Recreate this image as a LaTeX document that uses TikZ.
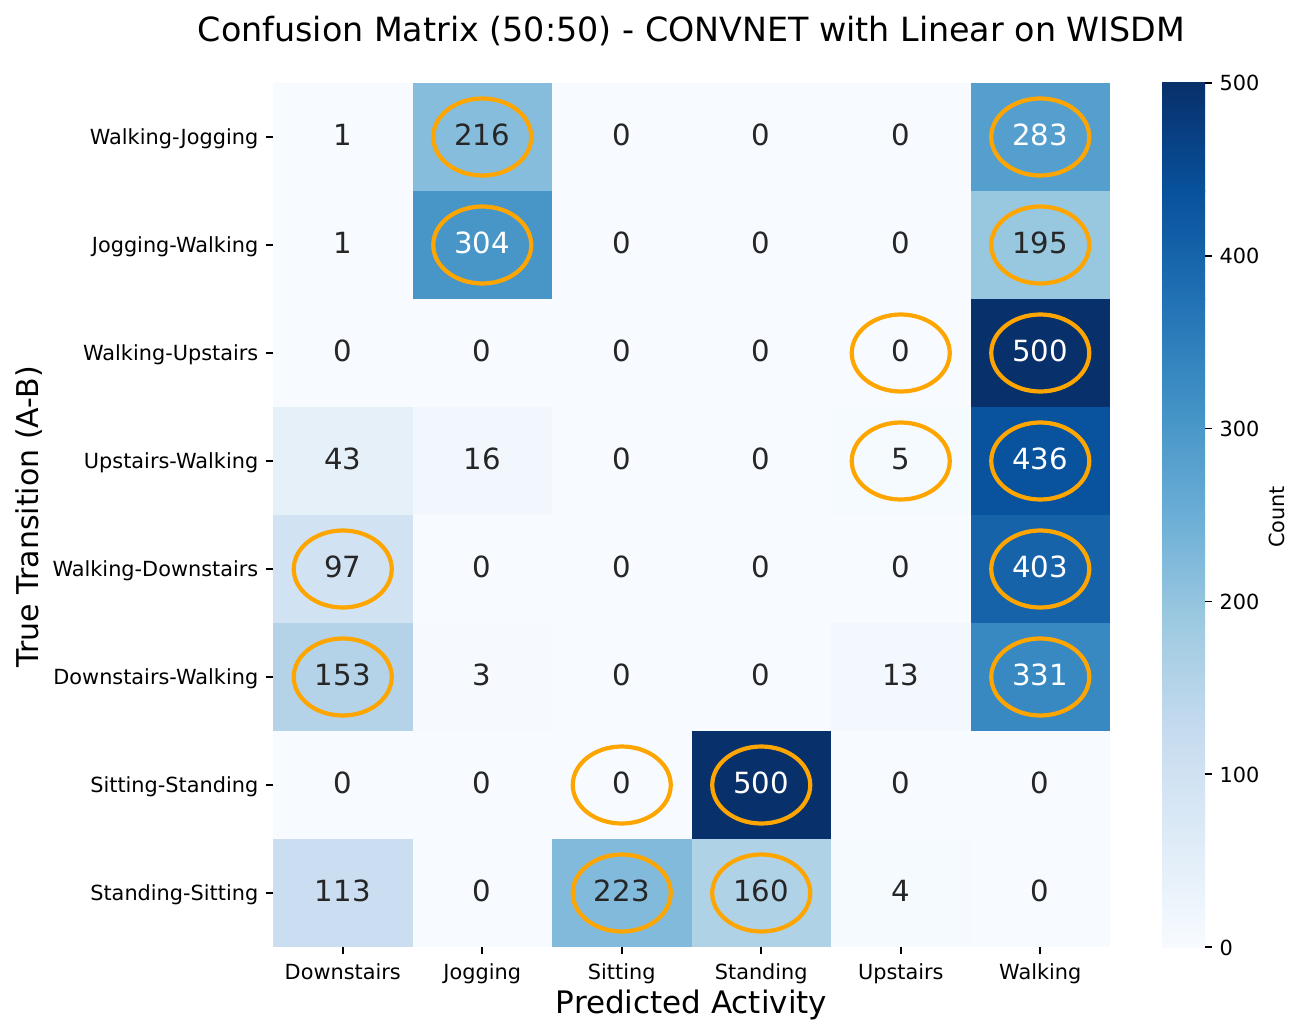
\documentclass[tikz,border=0pt]{standalone}
\usepackage{fontspec}
\setmainfont{DejaVu Sans}
% matplotlib Blues colormap stops
\definecolor{b0}{RGB}{247,251,255}
\definecolor{b1}{RGB}{222,235,247}
\definecolor{b2}{RGB}{198,219,239}
\definecolor{b3}{RGB}{158,202,225}
\definecolor{b4}{RGB}{107,174,214}
\definecolor{b5}{RGB}{66,146,198}
\definecolor{b6}{RGB}{33,113,181}
\definecolor{b7}{RGB}{8,81,156}
\definecolor{b8}{RGB}{8,48,107}
% cell colours by value
\definecolor{v0}{RGB}{247,251,255}
\definecolor{v1}{RGB}{247,251,255}
\definecolor{v3}{RGB}{246,250,255}
\definecolor{v4}{RGB}{245,250,254}
\definecolor{v5}{RGB}{245,250,254}
\definecolor{v13}{RGB}{242,248,253}
\definecolor{v16}{RGB}{241,247,253}
\definecolor{v43}{RGB}{230,240,249}
\definecolor{v97}{RGB}{209,226,243}
\definecolor{v113}{RGB}{203,222,241}
\definecolor{v153}{RGB}{180,211,233}
\definecolor{v160}{RGB}{176,210,231}
\definecolor{v195}{RGB}{152,199,224}
\definecolor{v216}{RGB}{135,189,220}
\definecolor{v223}{RGB}{129,186,219}
\definecolor{v283}{RGB}{85,159,206}
\definecolor{v304}{RGB}{72,150,200}
\definecolor{v331}{RGB}{56,136,193}
\definecolor{v403}{RGB}{22,99,170}
\definecolor{v436}{RGB}{9,82,157}
\definecolor{v500}{RGB}{8,48,107}
\definecolor{annotgray}{RGB}{38,38,38}
\definecolor{ringorange}{RGB}{255,165,0}
\begin{document}
\begin{tikzpicture}[x=1pt,y=-1pt,
  tickmark/.style={line width=1.67pt, draw=black},
  ticklab/.style={font=\fontsize{20.83}{25}\selectfont, inner sep=0pt, text=black},
  annot/.style={font=\fontsize{29.17}{35}\selectfont, inner sep=0pt, anchor=base},
  ring/.style={draw=ringorange, line width=4.2pt},
  axlab/.style={inner sep=0pt, anchor=base, text=black},
]
\useasboundingbox[fill=white] (0,0) rectangle (1302,1035);

% title
\node[axlab, font=\fontsize{33.33}{40}\selectfont] (title) at (691.5,41.7) {Confusion Matrix (50:50) - CONVNET with Linear on WISDM};

% heatmap cells and annotations
\foreach \r/\vals in {0/{1,216,0,0,0,283},1/{1,304,0,0,0,195},2/{0,0,0,0,0,500},3/{43,16,0,0,5,436},4/{97,0,0,0,0,403},5/{153,3,0,0,13,331},6/{0,0,0,500,0,0},7/{113,0,223,160,4,0}}{
  \foreach \v [count=\c from 0] in \vals {
    \fill[v\v] ({273+139.5*\c},{83+108*\r}) rectangle ({273+139.5*(\c+1)+0.3},{83+108*(\r+1)+0.3});
    \ifnum\v>250\relax\def\tc{white}\else\def\tc{annotgray}\fi
    \node[annot, text=\tc] (cell-\r-\c) at ({273+139.5*(\c+0.5)},{83+108*(\r+0.5)+8.5}) {\v};
  }
}

% highlight rings
\foreach \r/\c in {0/1,0/5,1/1,1/5,2/4,2/5,3/4,3/5,4/0,4/5,5/0,5/5,6/2,6/3,7/2,7/3}{
  \draw[ring] ({273+139.5*(\c+0.5)},{83+108*(\r+0.5)}) ellipse [x radius=49pt, y radius=38.5pt];
}

% y ticks and labels
\foreach \lab [count=\r from 0] in {Walking-Jogging,Jogging-Walking,Walking-Upstairs,Upstairs-Walking,Walking-Downstairs,Downstairs-Walking,Sitting-Standing,Standing-Sitting}{
  \draw[tickmark] (265.7,{83+108*(\r+0.5)}) -- (273,{83+108*(\r+0.5)});
  \node[ticklab, anchor=base east] (ylab-\r) at (258.4,{83+108*(\r+0.5)+7.5}) {\lab};
}

% x ticks and labels
\foreach \lab [count=\c from 0] in {Downstairs,Jogging,Sitting,Standing,Upstairs,Walking}{
  \draw[tickmark] ({273+139.5*(\c+0.5)},947) -- ({273+139.5*(\c+0.5)},954.3);
  \node[ticklab, anchor=base] (xlab-\c) at ({273+139.5*(\c+0.5)},979.3) {\lab};
}

% axis labels
\node[axlab, font=\fontsize{31}{37}\selectfont] (xaxis) at (691.5,1013.3) {Predicted Activity};
\node[axlab, font=\fontsize{30}{36}\selectfont, rotate=90] (yaxis) at (38,517) {True Transition (A-B)};

% colour bar
\foreach \i [evaluate=\i as \j using int(\i+1)] in {0,...,7}{
  \shade[bottom color=b\i, top color=b\j] (1162,{947-108*\i+0.3}) rectangle (1205,{947-108*(\i+1)});
}
\foreach \k in {0,...,5}{
  \pgfmathtruncatemacro\cblab{100*\k}
  \draw[tickmark] (1205,{947-172.8*\k}) -- (1212.3,{947-172.8*\k});
  \node[ticklab, anchor=base west] (cb-\k) at (1219.3,{947-172.8*\k+8}) {\cblab};
}
\node[ticklab, rotate=90, anchor=base] (cblabel) at (1284,517) {Count};
\end{tikzpicture}
\end{document}
